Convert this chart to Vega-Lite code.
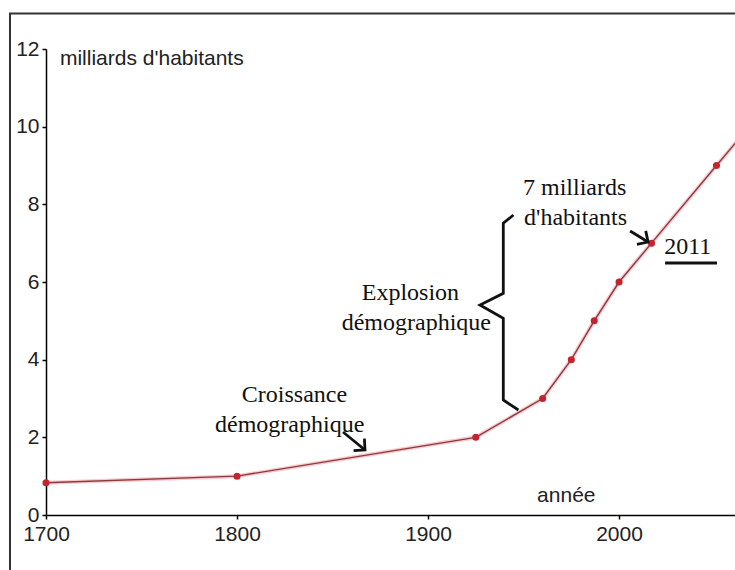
{
  "$schema": "https://vega.github.io/schema/vega-lite/v6.json",
  "width": 689,
  "height": 466,
  "autosize": {"type": "none"},
  "padding": {"left": 46, "top": 49, "right": 0, "bottom": 55},
  "background": "white",
  "config": {"view": {"stroke": null}},
  "datasets": {
    "pop": [
      {"year": 1700, "val": 0.83},
      {"year": 1800, "val": 1},
      {"year": 1925, "val": 2},
      {"year": 1960, "val": 3},
      {"year": 1975, "val": 4},
      {"year": 1987, "val": 5},
      {"year": 2000, "val": 6},
      {"year": 2017, "val": 7},
      {"year": 2051, "val": 9}
    ],
    "curve": [
      {"year": 1700, "val": 0.83},
      {"year": 1800, "val": 1},
      {"year": 1925, "val": 2},
      {"year": 1960, "val": 3},
      {"year": 1975, "val": 4},
      {"year": 1987, "val": 5},
      {"year": 2000, "val": 6},
      {"year": 2017, "val": 7},
      {"year": 2051, "val": 9},
      {"year": 2075, "val": 10.4}
    ],
    "frame": [
      {"grp": "f", "ord": 0, "year": 2080, "val": 12.914},
      {"grp": "f", "ord": 1, "year": 1681.15, "val": 12.914},
      {"grp": "f", "ord": 2, "year": 1681.15, "val": -2}
    ],
    "strokes": [
      {"grp": "brace", "ord": 0, "year": 1944.7, "val": 7.725},
      {"grp": "brace", "ord": 1, "year": 1939.4, "val": 7.512},
      {"grp": "brace", "ord": 2, "year": 1939.4, "val": 5.709},
      {"grp": "brace", "ord": 3, "year": 1927.2, "val": 5.408},
      {"grp": "brace", "ord": 4, "year": 1939.4, "val": 5.065},
      {"grp": "brace", "ord": 5, "year": 1939.4, "val": 2.961},
      {"grp": "brace", "ord": 6, "year": 1947.3, "val": 2.704},
      {"grp": "a1", "ord": 0, "year": 1855.5, "val": 2.137},
      {"grp": "a1", "ord": 1, "year": 1867.0, "val": 1.674},
      {"grp": "a2", "ord": 0, "year": 2005.8, "val": 7.313},
      {"grp": "a2", "ord": 1, "year": 2015.2, "val": 7.03},
      {"grp": "ul", "ord": 0, "year": 2024.1, "val": 6.489},
      {"grp": "ul", "ord": 1, "year": 2051.3, "val": 6.489}
    ],
    "heads": [
      {"year": 1867.0, "val": 1.674, "angle": 42},
      {"year": 2015.2, "val": 7.03, "angle": 33}
    ],
    "serif": [
      {"year": 1802.5, "val": 2.918, "txt": "Croissance"},
      {"year": 1788.5, "val": 2.145, "txt": "démographique"},
      {"year": 1865.3, "val": 5.537, "txt": "Explosion"},
      {"year": 1854.8, "val": 4.764, "txt": "démographique"},
      {"year": 1949.7, "val": 8.24, "txt": "7 milliards"},
      {"year": 1950.3, "val": 7.468, "txt": "d'habitants"},
      {"year": 2023.6, "val": 6.721, "txt": "2011"}
    ],
    "sans": [
      {"year": 1707.3, "val": 11.588, "txt": "milliards d'habitants"},
      {"year": 1957.1, "val": 0.335, "txt": "année"}
    ]
  },
  "encoding": {
    "x": {
      "field": "year",
      "type": "quantitative",
      "scale": {"domain": [1700, 2060.7], "nice": false, "zero": false},
      "axis": {
        "values": [1700, 1800, 1900, 2000],
        "title": null,
        "grid": false,
        "format": "d",
        "labelFont": "Liberation Sans",
        "labelFontSize": 21,
        "labelColor": "#222",
        "labelFlush": false,
        "labelOverlap": false,
        "labelPadding": 4,
        "tickSize": 4,
        "tickColor": "#000",
        "tickWidth": 1.5,
        "domainColor": "#000",
        "domainWidth": 1.5
      }
    },
    "y": {
      "field": "val",
      "type": "quantitative",
      "scale": {"domain": [0, 12], "nice": false},
      "axis": {
        "values": [0, 2, 4, 6, 8, 10, 12],
        "title": null,
        "grid": false,
        "labelFont": "Liberation Sans",
        "labelFontSize": 21,
        "labelColor": "#222",
        "labelOverlap": false,
        "labelPadding": 3,
        "tickSize": 4,
        "tickColor": "#000",
        "tickWidth": 1.5,
        "domainColor": "#000",
        "domainWidth": 1.5
      }
    }
  },
  "layer": [
    {
      "data": {"name": "frame"},
      "mark": {"type": "line", "color": "#333", "strokeWidth": 2, "clip": false},
      "encoding": {"detail": {"field": "grp"}, "order": {"field": "ord"}}
    },
    {
      "data": {"name": "curve"},
      "mark": {"type": "line", "color": "#f4a6ae", "strokeWidth": 4, "opacity": 0.6},
      "encoding": {}
    },
    {
      "data": {"name": "curve"},
      "mark": {"type": "line", "color": "#8a3a3e", "strokeWidth": 1.4},
      "encoding": {}
    },
    {
      "data": {"name": "pop"},
      "mark": {"type": "point", "filled": true, "color": "#c42430", "size": 50, "opacity": 1},
      "encoding": {}
    },
    {
      "data": {"name": "strokes"},
      "mark": {"type": "line", "color": "#111", "strokeWidth": 2.8, "strokeJoin": "miter"},
      "encoding": {"detail": {"field": "grp"}, "order": {"field": "ord"}}
    },
    {
      "data": {"name": "heads"},
      "mark": {"type": "point", "shape": "M-1,-1L0,0L-1,1", "filled": false, "stroke": "#111", "strokeWidth": 2.8, "size": 260, "opacity": 1},
      "encoding": {"angle": {"field": "angle", "type": "quantitative", "scale": null}}
    },
    {
      "data": {"name": "serif"},
      "mark": {"type": "text", "font": "Liberation Serif", "fontSize": 24, "color": "#111", "align": "left", "baseline": "alphabetic"},
      "encoding": {"text": {"field": "txt"}}
    },
    {
      "data": {"name": "sans"},
      "mark": {"type": "text", "font": "Liberation Sans", "fontSize": 21, "color": "#222", "align": "left", "baseline": "alphabetic"},
      "encoding": {"text": {"field": "txt"}}
    }
  ]
}
